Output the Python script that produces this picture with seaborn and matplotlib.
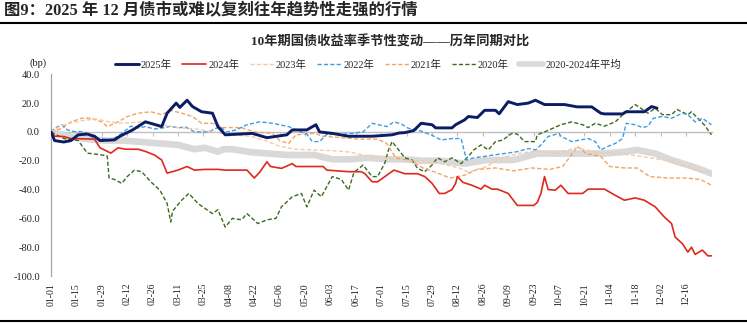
import matplotlib
matplotlib.use("Agg")
import matplotlib.pyplot as plt
from matplotlib.lines import Line2D
import seaborn as sns

# ---------------- data (bp change vs. start of year, by day-of-year index) -------------
tick_labels = ["01-01", "01-15", "01-29", "02-12", "02-26", "03-11", "03-25", "04-08",
               "04-22", "05-06", "05-20", "06-03", "06-17", "07-01", "07-15", "07-29",
               "08-12", "08-26", "09-09", "09-23", "10-07", "10-21", "11-04", "11-18",
               "12-02", "12-16"]
tick_days = [14 * i for i in range(len(tick_labels))]

days_2025 = [0, 2, 7, 11, 15, 20, 24, 27, 35, 38, 45, 52, 56, 61, 64, 69, 71, 75, 78, 83,
             89, 92, 96, 111, 119, 130, 133, 141, 146, 148, 155, 164, 177, 188, 192, 195,
             200, 204, 210, 212, 221, 223, 228, 230, 235, 239, 245, 247, 252, 257, 263,
             267, 272, 280, 283, 290, 298, 303, 305, 315, 317, 327, 331, 334]
bp_2025 = [0, -6, -7, -6, -2, -1.5, -3, -6, -5.5, -3, 1.4, 7, 5.6, 3.7, 13, 20, 17, 22,
           17.6, 14, 13, 3.7, -2, -1, -4, -2, 1.4, 1.4, 5, 0, -1, -3, -3, -2, -0.7, -0.5,
           1, 6, 5, 2.8, 2.8, 5, 8.4, 10.7, 10, 15, 15, 12.6, 21, 19, 20, 22, 19, 19, 19,
           17.4, 17.4, 13, 12.5, 12.5, 14, 14, 17.6, 16.5]

days_2024 = [0, 2, 7, 11, 24, 27, 33, 37, 41, 48, 52, 57, 61, 64, 70, 75, 79, 85, 92, 96,
             108, 112, 115, 119, 121, 127, 133, 135, 150, 152, 164, 171, 173, 177, 180,
             184, 189, 195, 202, 206, 210, 214, 217, 221, 223, 224, 227, 232, 237, 239,
             243, 246, 252, 257, 266, 268, 270, 272, 274, 278, 281, 285, 293, 296, 305,
             311, 316, 322, 327, 333, 338, 342, 344, 348, 351, 353, 355, 359, 362, 364]
bp_2024 = [0, -3, -3.2, -4.6, -5, -11, -14.7, -11, -12, -12, -13.5, -16, -19.5, -28.6,
           -26.5, -24, -26.5, -26, -26, -26.5, -26.5, -32, -28, -20.7, -24, -25.3, -22,
           -24, -24, -26.5, -27.6, -27.6, -29, -34.6, -34.6, -31, -26.5, -29, -29, -31,
           -35.7, -42.7, -42.7, -40, -35.7, -31, -35, -37, -39.7, -37, -39.7, -39.7,
           -42.7, -51, -51, -49, -42.7, -31, -40, -40.4, -37, -42.7, -42.7, -39.7, -39.7,
           -44, -47.4, -45.8, -47.4, -52, -59, -63.6, -73, -77.6, -83.4, -80, -85, -82,
           -86, -86]

days_2023 = [0, 5, 10, 18, 25, 32, 40, 50, 60, 70, 80, 90, 100, 110, 118, 126, 135, 145,
             155, 165, 175, 185, 195, 205, 215, 225, 230, 240, 248, 258, 268, 278, 290,
             300, 310, 320, 330, 340, 350, 358, 364]
bp_2023 = [0, 4, 6, 8, 9, 7, 6, 7, 5, 3, 2, 0, -2, -3, -6, -10, -12, -12.5, -13, -14,
           -17, -18, -20, -20, -22, -25, -28, -24, -18, -15, -13, -15, -11, -14, -15, -16,
           -18, -20, -24, -27, -28]

days_2022 = [0, 2, 6, 9, 13, 18, 24, 28, 33, 39, 44, 48, 52, 57, 63, 66, 70, 74, 79, 82,
             87, 93, 97, 102, 108, 115, 122, 131, 135, 141, 144, 148, 152, 161, 166, 172,
             177, 185, 189, 193, 197, 202, 210, 215, 221, 226, 229, 233, 239, 244, 250,
             257, 263, 267, 270, 274, 280, 281, 287, 292, 296, 300, 303, 307, 311, 315,
             317, 322, 326, 329, 332, 337, 342, 348, 351, 355, 359, 364]
bp_2022 = [0, 2.5, 5, 1.4, 0.2, 0.2, -4.6, -4.6, -6, -1, 4, 2.8, 3.7, 2, 3, 4, 2.8, 3.5,
           0.2, 0, 0, 3.7, 0, 1.4, 5, 7, 6, 3.7, 1.4, -1.6, -6.7, -6.7, -1.6, -1.6, -1,
           0, 6, 3.7, 7, 5.6, 2.5, 1.4, -2.3, -5.6, -4.6, -4.6, -19.5, -18, -17, -16,
           -15, -13.7, -11.5, -12.5, -9, -3.2, -1, -3, -6.7, -5.5, -4.6, -6.7, -12.5,
           -10, -8, -4.6, 6, 5, 3, 4, 9.5, 10.7, 9.5, 13, 12, 7, 9.5, 5]

days_2021 = [0, 6, 11, 17, 22, 28, 31, 37, 42, 48, 55, 61, 66, 72, 78, 83, 89, 95, 105,
             112, 122, 126, 131, 135, 145, 150, 160, 170, 180, 185, 190, 198, 205, 212,
             220, 228, 235, 245, 255, 265, 275, 282, 288, 290, 295, 303, 308, 316, 323,
             330, 340, 350, 358, 364]
bp_2021 = [0, 2.5, 7, 9.5, 9.5, 7, 3.7, 7, 10.7, 13, 14, 12, 15, 13, 10.7, 6, 6, 3, 3,
           0, -1, -6, -8, -2, -1, -3, -4, -5, -5, -8, -18, -20, -25, -28, -32, -30, -26,
           -25, -27, -25, -26, -24, -14, -10, -15, -17, -24, -25, -25, -31, -32, -32,
           -33, -37]

days_2020 = [0, 7, 15, 20, 28, 31, 32, 35, 39, 42, 46, 50, 55, 60, 64, 66, 67, 72, 76,
             81, 89, 92, 96, 100, 105, 108, 114, 119, 124, 127, 133, 138, 141, 145, 149,
             155, 160, 164, 167, 172, 177, 180, 184, 186, 188, 191, 195, 199, 202, 206,
             210, 213, 217, 221, 226, 230, 233, 237, 241, 245, 249, 254, 257, 261, 267,
             268, 272, 281, 287, 293, 296, 300, 305, 311, 316, 322, 326, 329, 333, 337,
             342, 345, 351, 353, 356, 360, 364]
bp_2020 = [0, -4.6, -6, -14.7, -16, -16.7, -32, -33, -35.7, -31, -26.5, -27.6, -34.6,
           -40.4, -49.7, -62.5, -55, -47.4, -42.7, -49.7, -56.7, -54, -66, -60, -61,
           -56.7, -63.6, -61, -60, -52, -45, -42.7, -52, -40.4, -45, -31, -33, -40.4,
           -28, -23, -31, -31, -21.6, -12.5, -6.7, -11.5, -18, -19.5, -25.3, -27.6, -23,
           -18, -20.7, -18, -22, -17, -12.5, -9, -12.5, -6.7, -5.6, -1, -1.5, -6.7,
           -6.7, -2, 0, 5, 7, 5, 3, 6, 4, 7, 13, 19, 15.6, 13, 16.5, 12, 12, 15.6, 12,
           14, 10, 5, -2]

days_avg = [0, 10, 20, 30, 40, 50, 60, 70, 79, 85, 92, 95, 100, 110, 120, 130, 145, 155,
            165, 175, 185, 195, 205, 215, 228, 240, 255, 268, 280, 295, 305, 315, 323,
            333, 342, 351, 358, 364]
bp_avg = [0, -3, -5, -6, -6, -7, -8, -9, -12, -11, -13.7, -12, -12, -14, -15, -16, -16,
          -19, -19, -18, -19, -19, -20, -20, -22, -19.5, -19.5, -15, -15, -15, -15, -14,
          -12.5, -15, -19.5, -23, -26, -29]

# ---------------- styling ----------------
sns.set_style("white")
plt.rcParams["font.family"] = ["Liberation Serif", "Noto Sans CJK SC"]
plt.rcParams["axes.unicode_minus"] = False

W, H = 747, 323
fig = plt.figure(figsize=(W / 100, H / 100), dpi=100)
ax = fig.add_axes([51 / W, 1 - 276 / H, (712 - 51) / W, (276 - 74.3) / H])

GRAY_AX = "#a6a6a6"

series = [
    ("2020-2024年平均", days_avg, bp_avg, "#d9d9d9", "-", 4.8, 1),
    ("2020年", days_2020, bp_2020, "#3a6b1e", (0, (3, 1.6)), 1.0, 3),
    ("2021年", days_2021, bp_2021, "#f2a461", (0, (3, 1.6)), 1.0, 3),
    ("2022年", days_2022, bp_2022, "#3d9de0", (0, (3, 1.6)), 1.0, 3),
    ("2023年", days_2023, bp_2023, "#f6c9a8", (0, (3, 1.6)), 1.0, 3),
    ("2024年", days_2024, bp_2024, "#e0281c", "-", 1.2, 4),
    ("2025年", days_2025, bp_2025, "#0c1d66", "-", 2.1, 5),
]
handles = {}
for name, dx, dy, col, ls, lw, z in series:
    sns.lineplot(x=dx, y=dy, ax=ax, color=col, linewidth=lw, zorder=z, legend=False)
    line = ax.lines[-1]
    line.set_linestyle(ls)
    handles[name] = Line2D([0], [0], color=col, linestyle=ls, linewidth=lw if lw < 3 else 4)

ax.set_xlim(0, 364.3)
ax.set_ylim(-100, 40)
ax.set_yticks([40, 20, 0, -20, -40, -60, -80, -100])
ax.set_yticklabels([f"{v:.1f}" for v in [40, 20, 0, -20, -40, -60, -80, -100]])
ax.set_xticks(tick_days)
ax.set_xticklabels(tick_labels, rotation=90)
ax.set_xlabel("")
ax.set_ylabel("")
ax.tick_params(axis="x", length=0, pad=5, labelsize=7, labelcolor="#222222")
ax.tick_params(axis="y", length=3, width=0.8, color=GRAY_AX, direction="out", pad=5,
               labelsize=7.5, labelcolor="#222222")
for s in ["top", "right", "bottom"]:
    ax.spines[s].set_visible(False)
ax.spines["left"].set_color(GRAY_AX)
ax.spines["left"].set_linewidth(0.9)

# zero line with tick marks (category axis crossing at 0)
sec = ax.secondary_xaxis(100 / 140)
sec.set_xticks(tick_days)
sec.tick_params(axis="x", direction="in", length=3, width=0.8, color="#bfbfbf",
                labeltop=False, labelbottom=False)
for s in sec.spines.values():
    s.set_color("#bfbfbf")
    s.set_linewidth(1.0)

order = ["2025年", "2024年", "2023年", "2022年", "2021年", "2020年", "2020-2024年平均"]
fig.legend([handles[k] for k in order], order, loc="center",
           bbox_to_anchor=(368 / W, 1 - 65 / H), ncol=7, frameon=False, fontsize=7.5,
           handlelength=2.3, handletextpad=0.2, columnspacing=1.0, borderpad=0)

fig.text(30 / W, 1 - 63 / H, "(bp)", fontsize=7.5, ha="left", va="center", color="#222222")

fig.text(4 / W, 1 - 11 / H, "图9：2025 年 12 月债市或难以复刻往年趋势性走强的行情",
         fontsize=11.8, fontweight="bold", ha="left", va="center")
fig.add_artist(Line2D([0, 1], [1 - 22.5 / H] * 2, color="black", linewidth=1.5))
fig.text(390 / W, 1 - 42 / H, "10年期国债收益率季节性变动——历年同期对比",
         fontsize=9.5, fontweight="bold", ha="center", va="center")
fig.add_artist(Line2D([0, 1], [1 - 320.5 / H] * 2, color="black", linewidth=1.5))

fig.savefig("out.png", dpi=100)
